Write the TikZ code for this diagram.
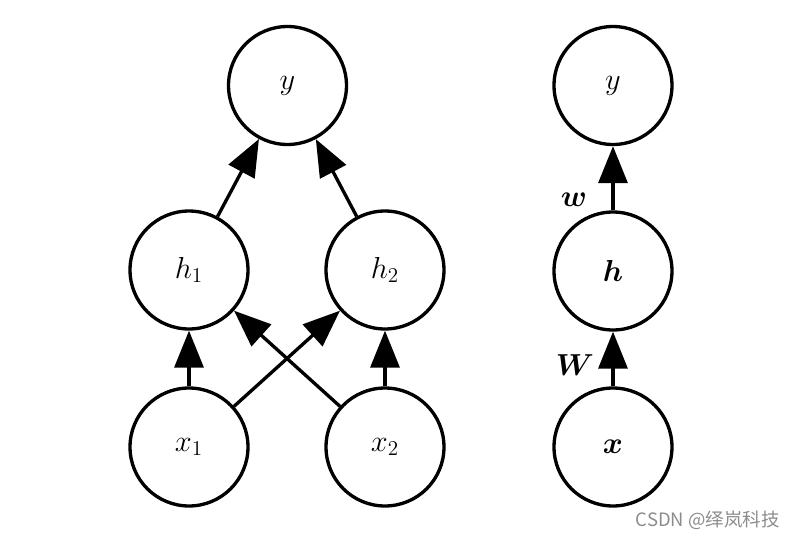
\documentclass[tikz,border=0pt]{standalone}
\usepackage{amsmath,bm}
\usepackage{fontspec}
\newfontfamily\cjk{Noto Sans CJK SC}
\usetikzlibrary{arrows.meta}
\begin{document}
\begin{tikzpicture}[x=0.02cm,y=-0.02cm,
  unit/.style={circle,draw,line width=1.9pt,minimum size=2.36cm,inner sep=0pt,font=\fontsize{18}{21}\selectfont},
  edge/.style={line width=1.9pt,-{Triangle[length=0.74cm,width=0.58cm]}},
  wlab/.style={font=\fontsize{18}{21}\selectfont}]
\path[use as bounding box] (0,0) rectangle (796,538);
\node[unit] (y) at (287.5,85.5) {$y$};
\node[unit] (h1) at (189,270) {$h_1$};
\node[unit] (h2) at (385,270) {$h_2$};
\node[unit] (x1) at (189,447) {$x_1$};
\node[unit] (x2) at (385,447) {$x_2$};
\node[unit] (yr) at (613,85.5) {$y$};
\node[unit] (hr) at (613,271) {$\bm{h}$};
\node[unit] (xr) at (613,447) {$\bm{x}$};
\draw[edge] (h1) -- (y);
\draw[edge] (h2) -- (y);
\draw[edge] (x1) -- (h1);
\draw[edge] (x2) -- (h2);
\draw[edge] (x1) -- (h2);
\draw[edge] (x2) -- (h1);
\draw[edge] (hr) -- (yr);
\draw[edge] (xr) -- (hr);
\node[wlab] (wl) at (574,200) {$\bm{w}$};
\node[wlab] (Wl) at (575,365) {$\bm{W}$};
\node[font=\cjk\fontsize{10.5}{12}\selectfont,text=black!45,anchor=east,inner sep=0pt] (wm) at (780,520) {CSDN @绎岚科技};
\end{tikzpicture}
\end{document}
